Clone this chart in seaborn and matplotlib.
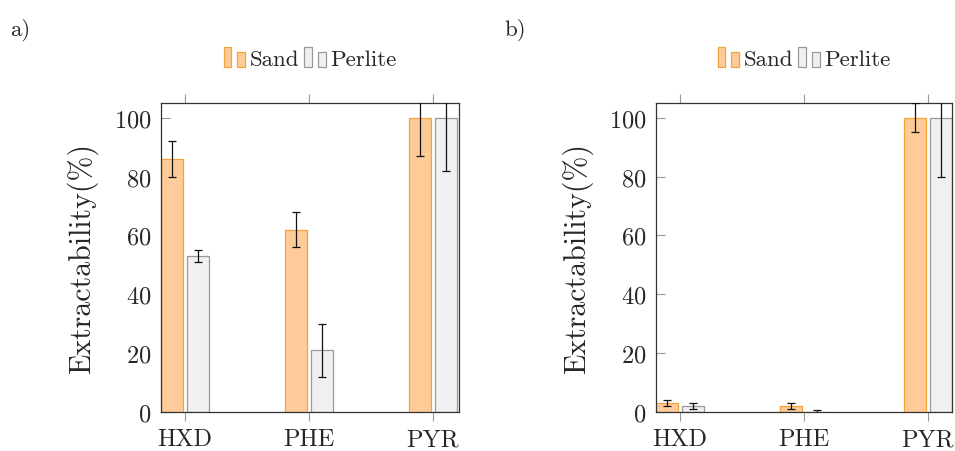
import pandas as pd
import seaborn as sns
import matplotlib.pyplot as plt
from matplotlib.legend_handler import HandlerBase
from matplotlib.patches import Rectangle, Patch

compounds = ["HXD", "PHE", "PYR"]
media = ["Sand", "Perlite"]

sand_a = [86, 62, 100]
sand_a_err = [6, 6, 13]
perlite_a = [53, 21, 100]
perlite_a_err = [2, 9, 18]

sand_b = [3, 2, 100]
sand_b_err = [1, 0.9, 5]
perlite_b = [2, 0, 100]
perlite_b_err = [0.9, 0.8, 20]

y_ticks = [0, 20, 40, 60, 80, 100]

sand_fill, sand_edge = "#ffcc99", "#f7a13c"
perl_fill, perl_edge = "#f0f0f0", "#999999"

sns.set_theme(style="white")
plt.rcParams["font.family"] = ["cmr10", "DejaVu Serif"]
plt.rcParams["mathtext.fontset"] = "cm"
plt.rcParams["axes.unicode_minus"] = False
plt.rcParams["axes.formatter.use_mathtext"] = True


class TwoBarHandler(HandlerBase):
    # pgfplots-like ybar legend image: two little bars
    def create_artists(self, legend, orig_handle, xdescent, ydescent,
                       width, height, fontsize, trans):
        fc = orig_handle.get_facecolor()
        ec = orig_handle.get_edgecolor()
        bw = width * 0.35
        r1 = Rectangle((-xdescent, -ydescent), bw, height, facecolor=fc,
                       edgecolor=ec, lw=0.9, transform=trans)
        r2 = Rectangle((-xdescent + width - bw, -ydescent), bw, height * 0.75,
                       facecolor=fc, edgecolor=ec, lw=0.9, transform=trans)
        return [r1, r2]


def make_df(sand, perlite):
    return pd.DataFrame({
        "compound": compounds * 2,
        "medium": ["Sand"] * 3 + ["Perlite"] * 3,
        "value": sand + perlite,
    })


fig = plt.figure(figsize=(9.55, 4.52), dpi=100)
ax_a = fig.add_axes([161 / 955, 39 / 452, 298 / 955, 309 / 452])
ax_b = fig.add_axes([656 / 955, 39 / 452, 296 / 955, 309 / 452])

panels = [
    (ax_a, sand_a, sand_a_err, perlite_a, perlite_a_err, (-0.195, 2.21), "a)"),
    (ax_b, sand_b, sand_b_err, perlite_b, perlite_b_err, (-0.195, 2.195), "b)"),
]

for ax, s, se, p, pe, xl, tag in panels:
    df = make_df(s, p)
    sns.barplot(data=df, x="compound", y="value", hue="medium", hue_order=media,
                palette=[sand_fill, perl_fill], width=0.42, gap=0.14,
                errorbar=None, legend=False, ax=ax, saturation=1)
    for cont, fc, ec, err in zip(ax.containers, [sand_fill, perl_fill],
                                 [sand_edge, perl_edge], [se, pe]):
        xs, ys = [], []
        for bar in cont:
            bar.set_facecolor(fc)
            bar.set_edgecolor(ec)
            bar.set_linewidth(0.9)
            xs.append(bar.get_x() + bar.get_width() / 2)
            ys.append(bar.get_height())
        ax.errorbar(xs, ys, yerr=err, fmt="none", ecolor="#111111",
                    elinewidth=0.9, capsize=3.2, capthick=0.9, zorder=5)

    ax.set_xlim(*xl)
    ax.set_ylim(0, 105)
    ax.set_yticks(y_ticks)
    ax.set_xlabel("")
    ax.set_ylabel("Extractability(%)", fontsize=21.5, labelpad=11)
    ax.tick_params(axis="x", direction="out", length=6.5, width=0.8,
                   color="#999999", top=True, bottom=True, labelsize=17.5, pad=5)
    ax.tick_params(axis="y", direction="in", length=6.5, width=0.8,
                   color="#999999", left=True, right=False, labelsize=17.5, pad=7)
    for sp in ax.spines.values():
        sp.set_color("#333333")
        sp.set_linewidth(0.9)

    handles = [Patch(facecolor=sand_fill, edgecolor=sand_edge),
               Patch(facecolor=perl_fill, edgecolor=perl_edge)]
    ax.legend(handles, media, loc="center", bbox_to_anchor=(0.5, 1.145), ncol=2,
              frameon=False, fontsize=16.5, handlelength=0.92, handleheight=0.95,
              handletextpad=0.2, columnspacing=0.25,
              handler_map={Patch: TwoBarHandler()})

fig.text(10 / 955, 1 - 30 / 452, "a)", fontsize=16.5, va="center", ha="left")
fig.text(504 / 955, 1 - 30 / 452, "b)", fontsize=16.5, va="center", ha="left")

fig.savefig("out.png", dpi=100)
